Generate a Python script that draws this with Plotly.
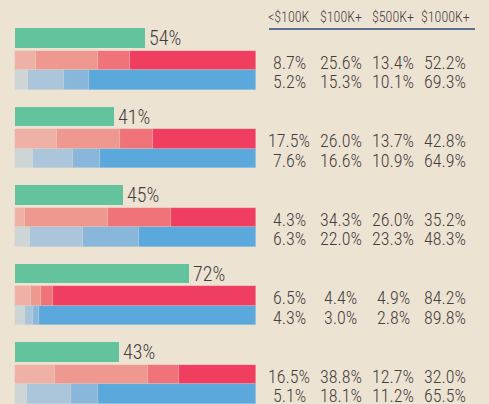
import plotly.graph_objects as go
import numpy as np

# ---- data ----
headers = ["<$100K", "$100K+", "$500K+", "$1000K+"]
green_pct = [54, 41, 45, 72, 43]
red_rows = [
    [8.7, 25.6, 13.4, 52.2],
    [17.5, 26.0, 13.7, 42.8],
    [4.3, 34.3, 26.0, 35.2],
    [6.5, 4.4, 4.9, 84.2],
    [16.5, 38.8, 12.7, 32.0],
]
blue_rows = [
    [5.2, 15.3, 10.1, 69.3],
    [7.6, 16.6, 10.9, 64.9],
    [6.3, 22.0, 23.3, 48.3],
    [4.3, 3.0, 2.8, 89.8],
    [5.1, 18.1, 11.2, 65.5],
]

# ---- style ----
W, H = 489, 404
BG = "#EDE3D3"
GREEN = "#63C39D"
REDS = ["#EFB0A6", "#EF9890", "#F07379", "#F03E61"]
BLUES = ["#CDD5D7", "#ABC5DA", "#89B6DB", "#5BA8DD"]
TXT = "#463e3e"
FONT = "Liberation Sans Narrow, Arial Narrow, Roboto Condensed, DejaVu Sans Condensed, sans-serif"

px_per_unit = 2.41
x0_px = 15
x_range = [-x0_px / px_per_unit, (W - x0_px) / px_per_unit]

group_top0 = 28
group_step = 78.5
n = len(green_pct)
tops = [group_top0 + group_step * i for i in range(n)]
g_c = [t + 9.8 for t in tops]
r_c = [t + 32.7 for t in tops]
b_c = [t + 52.2 for t in tops]

fig = go.Figure()

fig.add_trace(go.Bar(
    orientation="h", x=green_pct, y=g_c, base=[0] * n, width=19.6,
    marker=dict(color=GREEN, line=dict(width=0)), hoverinfo="skip", showlegend=False,
))

def add_stack(rows, centers, colors, width):
    arr = np.array(rows)
    cum = np.cumsum(arr, axis=1) - arr
    for j in range(arr.shape[1]):
        fig.add_trace(go.Bar(
            orientation="h", x=arr[:, j], y=centers, base=cum[:, j], width=width,
            marker=dict(color=colors[j], line=dict(width=0.6, color="rgba(237,227,211,0.35)")),
            hoverinfo="skip", showlegend=False,
        ))

add_stack(red_rows, r_c, REDS, 19.5)
add_stack(blue_rows, b_c, BLUES, 19.5)

ann = []
for v, yc in zip(green_pct, g_c):
    ann.append(dict(x=v, y=yc + 0.5, xref="x", yref="y", text=f"{v}%", showarrow=False,
                    xanchor="left", yanchor="middle", xshift=2,
                    font=dict(family=FONT, size=20, color=TXT, weight=300)))

col_x = [289, 340.5, 393, 445]
for h, cx in zip(headers, col_x):
    ann.append(dict(x=cx / W, y=17, xref="paper", yref="y", text=h, showarrow=False,
                    xanchor="center", yanchor="middle",
                    font=dict(family=FONT, size=14, color=TXT, weight=300)))

for rows, centers in ((red_rows, r_c), (blue_rows, b_c)):
    for row, yc in zip(rows, centers):
        for v, cx in zip(row, col_x):
            ann.append(dict(x=cx / W, y=yc + 1.5, xref="paper", yref="y", text=f"{v:.1f}%",
                            showarrow=False, xanchor="center", yanchor="middle",
                            font=dict(family=FONT, size=18, color=TXT, weight=300)))

fig.update_layout(
    width=W, height=H, margin=dict(l=0, r=0, t=0, b=0),
    paper_bgcolor=BG, plot_bgcolor=BG, barmode="overlay", bargap=0,
    xaxis=dict(range=x_range, visible=False, fixedrange=True),
    yaxis=dict(range=[H, 0], visible=False, fixedrange=True),
    annotations=ann,
    shapes=[dict(type="line", xref="paper", yref="y", x0=269 / W, x1=475 / W, y0=29, y1=29,
                 line=dict(color="#2C4A7C", width=1.5))],
)

fig.write_html("out.html", config={"displayModeBar": False},
               post_script="document.body.style.margin='0';document.body.style.background='%s';" % BG)
